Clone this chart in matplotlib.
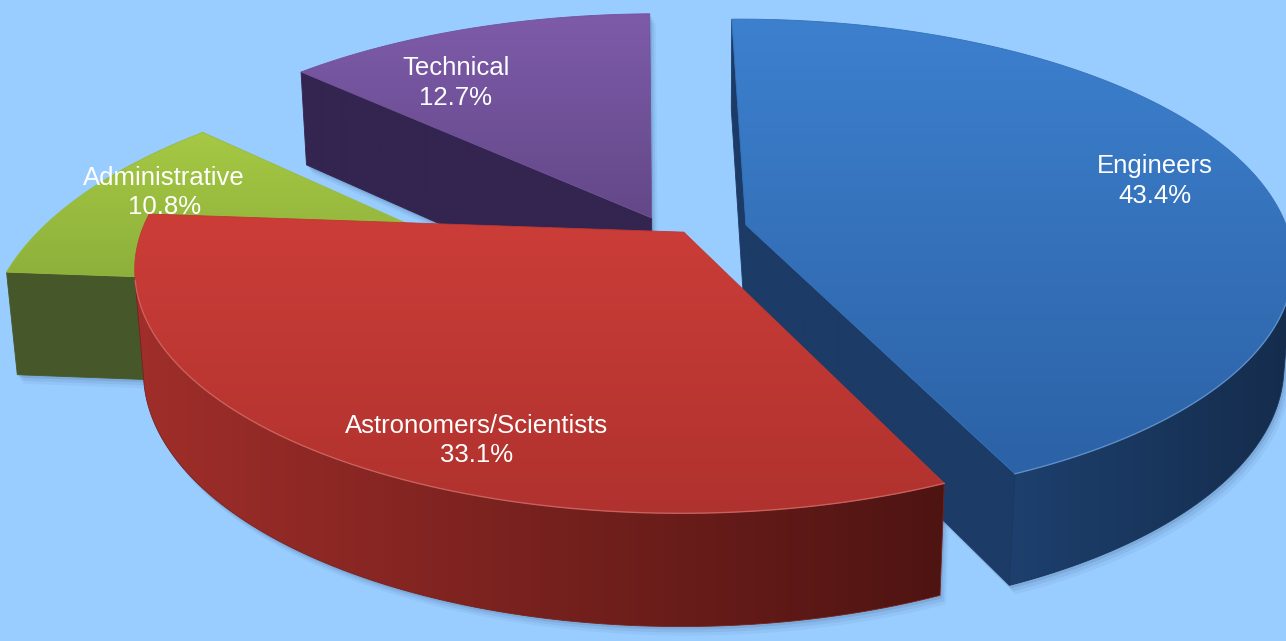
import numpy as np
import matplotlib
matplotlib.use('Agg')
import matplotlib.pyplot as plt
from matplotlib.patches import Polygon
from matplotlib.colors import to_rgb

names = ['Engineers', 'Astronomers/Scientists', 'Administrative', 'Technical']
shares = [43.4, 33.1, 10.8, 12.7]

top_light = ['#3D80CE', '#CC3D38', '#A6C844', '#7E5BAA']
top_dark = ['#2C62A6', '#B0322E', '#8AAE3A', '#634888']
side_light = ['#1D406E', '#A02E2A', '#4C6026', '#3A2A58']
side_dark = ['#152C4C', '#4E1412', '#3E4E1E', '#2C2044']
face_col = ['#1C3B66', '#6A1A18', '#46582A', '#33254F']

# view: start angle, elevation, camera distance, scale, centre, thickness
start, elev, dist, scale, cx, cy, thick = 91.0, 26.0, 6.0, 540.0, 700.0, 225.0, 0.21
# slice offsets (explode) in pie-radius units
offsets = np.array([[0.085, 0.0, 0], [-0.03, -0.03, 0], [-0.25, -0.27, 0], [-0.09, 0.03, 0]])
label_r = 0.78
label_nudge = [(10, -4), (62, 39), (-19, -22), (-47, 16)]

e = np.radians(elev)
cam = np.array([0, -dist * np.cos(e), dist * np.sin(e)])


def proj(P):
    P = np.atleast_2d(P)
    depth = dist + P[:, 1] * np.cos(e) - P[:, 2] * np.sin(e)
    v = P[:, 1] * np.sin(e) + P[:, 2] * np.cos(e)
    return np.column_stack([cx + scale * dist * P[:, 0] / depth, cy - scale * dist * v / depth])


def rim(off, th, z):
    t = np.radians(np.atleast_1d(th))
    return np.column_stack([off[0] + np.cos(t), off[1] + np.sin(t), np.full(t.shape, z)])


def grad_poly(ax, pts, c1, c2, horizontal, z):
    poly = Polygon(pts, closed=True, facecolor='none', edgecolor='none', zorder=z)
    ax.add_patch(poly)
    x0, y0 = pts.min(0)
    x1, y1 = pts.max(0)
    x1 = max(x1, x0 + 1)
    y1 = max(y1, y0 + 1)
    t = np.linspace(0, 1, 128)[:, None]
    col = np.array(to_rgb(c1)) * (1 - t) + np.array(to_rgb(c2)) * t
    img = col[None, :, :] if horizontal else col[:, None, :]
    im = ax.imshow(img, extent=(x0, x1, y1, y0), origin='upper',
                   interpolation='bilinear', aspect='auto', zorder=z)
    im.set_clip_path(poly)
    ax.add_patch(Polygon(pts, closed=True, facecolor='none',
                         edgecolor=tuple((np.array(to_rgb(c1)) + to_rgb(c2)) / 2),
                         lw=0.6, zorder=z + 0.01))


frac = np.array(shares) / sum(shares) * 360
hi = start - np.concatenate([[0], np.cumsum(frac)[:-1]])
lo = hi - frac
mid = np.radians((lo + hi) / 2)

fig = plt.figure(figsize=(12.86, 6.41), dpi=100)
fig.patch.set_facecolor('#99CCFF')
ax = fig.add_axes([0, 0, 1, 1])
ax.set_facecolor('#99CCFF')

# back slices first
order = np.argsort(-(offsets[:, 1] + 0.5 * np.sin(mid)))
z = 2
for i in order:
    off = offsets[i]
    th = np.linspace(lo[i], hi[i], 160)
    top3 = rim(off, th, 0)
    top2 = proj(top3)
    bot2 = proj(rim(off, th, -thick))
    faces = []
    # flat cut faces, only those turned to the camera
    for a, n in [(lo[i], (np.sin(np.radians(lo[i])), -np.cos(np.radians(lo[i])), 0)),
                 (hi[i], (-np.sin(np.radians(hi[i])), np.cos(np.radians(hi[i])), 0))]:
        if np.dot(n, cam - off) > 0:
            q = np.vstack([off, rim(off, a, 0)[0], rim(off, a, -thick)[0], off + [0, 0, -thick]])
            faces.append(('r', proj(q)))
    # curved outer wall
    nrm = np.column_stack([np.cos(np.radians(th)), np.sin(np.radians(th)), np.zeros(th.size)])
    vis = np.where(np.einsum('ij,ij->i', nrm, cam - top3) > 0)[0]
    if vis.size:
        faces.append(('o', np.vstack([top2[vis], bot2[vis][::-1]])))
    top = np.vstack([proj(off), top2])
    for dx, dy, al in [(2, 3, 0.12), (4, 6, 0.08), (6, 9, 0.05)]:
        for kind, f in faces + [('t', top)]:
            ax.add_patch(Polygon(f + [dx, dy], closed=True, facecolor='#1F3F66',
                                 alpha=al, lw=0, zorder=1))
    for kind, f in faces:
        if kind == 'o':
            grad_poly(ax, f, side_light[i], side_dark[i], True, z)
        else:
            grad_poly(ax, f, face_col[i], face_col[i], True, z)
        z += 0.1
    grad_poly(ax, top, top_light[i], top_dark[i], False, z)
    if vis.size:
        hl = np.array(to_rgb(top_light[i])) * 0.6 + 0.4
        ax.plot(top2[vis, 0], top2[vis, 1], color=hl, lw=1.0, alpha=0.5, zorder=z + 0.02)
    z += 0.5

for i in range(4):
    c = proj(offsets[i] + label_r * np.array([np.cos(mid[i]), np.sin(mid[i]), 0]))[0]
    ax.text(c[0] + label_nudge[i][0], c[1] + label_nudge[i][1], f"{names[i]}\n{shares[i]}%",
            color='white', fontsize=18.5, family=['Liberation Sans', 'DejaVu Sans'],
            ha='center', va='center', linespacing=1.3, zorder=20)

ax.set_xlim(0, 1286)
ax.set_ylim(641, 0)
ax.axis('off')
fig.savefig('out.png', dpi=100, facecolor=fig.get_facecolor())
